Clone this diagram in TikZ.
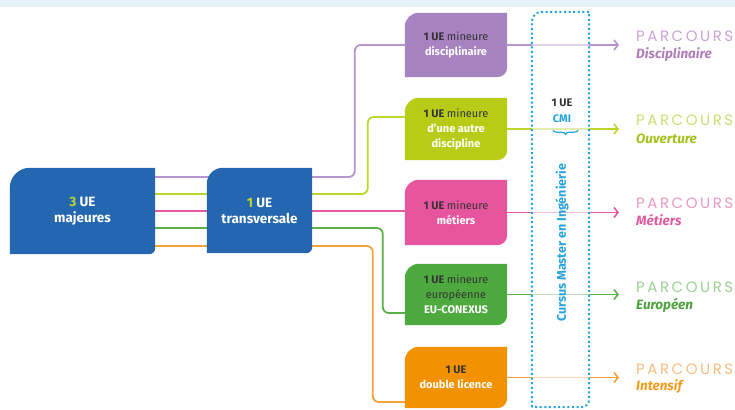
\documentclass[tikz,border=0pt]{standalone}
\usepackage{fontspec}
\setmainfont{Fira Sans}
\newfontfamily\popfont{Poppins}
\usetikzlibrary{arrows.meta,backgrounds,decorations.pathreplacing}
\definecolor{band}{HTML}{E4F2FA}
\definecolor{bluebox}{HTML}{2467B0}
\definecolor{ygreen}{HTML}{C2D62E}
\definecolor{purbox}{HTML}{A883C2}
\definecolor{purline}{HTML}{B794CF}
\definecolor{yelbox}{HTML}{B8CC17}
\definecolor{yelline}{HTML}{BFD42C}
\definecolor{pinkbox}{HTML}{E6559D}
\definecolor{pinkline}{HTML}{E8579F}
\definecolor{grnbox}{HTML}{4EAA3F}
\definecolor{grnline}{HTML}{5BB04A}
\definecolor{orabox}{HTML}{F39200}
\definecolor{oraline}{HTML}{F3A13A}
\definecolor{cmicyan}{HTML}{25A3DC}
\definecolor{darktxt}{HTML}{333333}
\definecolor{purlab}{HTML}{B07DBA}
\definecolor{yellab}{HTML}{A6BF1A}
\definecolor{pinklab}{HTML}{E05CA0}
\definecolor{grnlab}{HTML}{4DA23E}
\definecolor{oralab}{HTML}{F39A1F}
\definecolor{purpale}{HTML}{C9A3D4}
\definecolor{yelpale}{HTML}{CFDC70}
\definecolor{pinkpale}{HTML}{EC98C2}
\definecolor{grnpale}{HTML}{9DD094}
\definecolor{orapale}{HTML}{F5BE80}
\newcommand\tabpath[4]{\path[#1] (#2.south west) -- ([yshift=-#3]#2.north west) arc(180:90:#3) -- (#2.north east) -- ([yshift=#4]#2.south east) arc(0:-90:#4) -- cycle;}
\newcommand\spreadword[1]{\makebox[97pt][s]{#1}}
\begin{document}
\begin{tikzpicture}[x=1pt,y=1pt,
  boxtxt/.style={inner sep=0pt, align=center, text=white, font=\bfseries\fontsize{13.5}{16}\selectfont},
  mintxt/.style={inner sep=0pt, minimum width=102pt, align=center, text=white, font=\bfseries\fontsize{11}{15}\selectfont},
  conn/.style={line width=1.8pt, rounded corners=6pt},
  arr/.style={line width=1.8pt, -{Straight Barb[length=4pt,width=10pt,line width=1.6pt]}},
  fade/.style={line width=2pt, white, opacity=0.6},
  parc/.style={anchor=west, inner sep=0pt, font=\popfont\fontsize{15}{15}\selectfont},
  plab/.style={anchor=west, inner sep=0pt, font=\bfseries\itshape\fontsize{13.5}{13.5}\selectfont},
  cmitxt/.style={inner sep=0pt, font=\bfseries\fontsize{11}{12}\selectfont}
]
\useasboundingbox (0,0) rectangle (735,409);
\fill[band] (0,402) rectangle (735,409);
% boxes (text)
\node[boxtxt, minimum width=145pt, minimum height=86pt] (b1) at (82.5,198) {\textcolor{ygreen}{3} UE\\majeures};
\node[boxtxt, minimum width=105pt, minimum height=85pt] (b2) at (259.5,198.5) {\textcolor{ygreen}{1} UE\\transversale};
\node[mintxt, minimum height=64pt] (r1) at (456,364) {\textcolor{darktxt}{1 UE \mdseries mineure}\\disciplinaire};
\node[mintxt, minimum height=62pt] (r2) at (456,280) {\textcolor{darktxt}{1 UE \mdseries mineure}\\d'une autre\\discipline};
\node[mintxt, minimum height=65pt] (r3) at (456,196.5) {\textcolor{darktxt}{1 UE \mdseries mineure}\\métiers};
\node[mintxt, minimum height=61pt] (r4) at (456,114.5) {\textcolor{darktxt}{1 UE \mdseries mineure}\\\textcolor{darktxt}{\mdseries européenne}\\EU-CONEXUS};
\node[mintxt, minimum height=61pt] (r5) at (456,31.5) {\textcolor{darktxt}{1 UE}\\double licence};
% CMI column
\node[inner sep=0pt, minimum width=57pt, minimum height=395pt] (cmi) at (560.5,199.5) {};
\node[cmitxt, text=darktxt] (cu) at (562,306) {1 UE};
\node[cmitxt, text=cmicyan] (cc) at (562,290) {CMI};
\node[cmitxt, text=cmicyan, rotate=90, font=\bfseries\fontsize{12.5}{13}\selectfont] (cv) at (562,166) {Cursus Master en Ingénierie};
\coordinate (tip) at (619,0);
% parcours labels
\node[parc, text=purpale] (p1) at (636,373) {\spreadword{P\hfill A\hfill R\hfill C\hfill O\hfill U\hfill R\hfill S}};
\node[plab, text=purlab] (q1) at (636,354) {Disciplinaire};
\node[parc, text=yelpale] (p2) at (636,289) {\spreadword{P\hfill A\hfill R\hfill C\hfill O\hfill U\hfill R\hfill S}};
\node[plab, text=yellab] (q2) at (636,270) {Ouverture};
\node[parc, text=pinkpale] (p3) at (636,206) {\spreadword{P\hfill A\hfill R\hfill C\hfill O\hfill U\hfill R\hfill S}};
\node[plab, text=pinklab] (q3) at (636,189) {Métiers};
\node[parc, text=grnpale] (p4) at (636,122) {\spreadword{P\hfill A\hfill R\hfill C\hfill O\hfill U\hfill R\hfill S}};
\node[plab, text=grnlab] (q4) at (636,104) {Européen};
\node[parc, text=orapale] (p5) at (636,40) {\spreadword{P\hfill A\hfill R\hfill C\hfill O\hfill U\hfill R\hfill S}};
\node[plab, text=oralab] (q5) at (636,22) {Intensif};
\draw[decorate, decoration={brace, amplitude=4pt}, cmicyan, line width=1.2pt] ([xshift=16pt,yshift=-7pt]cc.south) -- ([xshift=-9pt,yshift=-7pt]cc.south);
\begin{scope}[on background layer]
  % connectors
  \draw[conn, purline] ([yshift=34pt]b1.east) -| ([xshift=-50pt]r1.west) -- (r1.west);
  \draw[conn, yelline] ([yshift=17pt]b1.east) -| ([xshift=-37pt,yshift=12pt]r2.west) -- ([yshift=12pt]r2.west);
  \draw[conn, pinkline] (b1.east) -- (b1.east -| r3.west);
  \draw[conn, grnline] ([yshift=-17pt]b1.east) -| ([xshift=-22pt,yshift=-18.5pt]r4.west) -- ([yshift=-18.5pt]r4.west);
  \draw[conn, oraline] ([yshift=-35pt]b1.east) -| ([xshift=-32pt,yshift=-24.5pt]r5.west) -- ([yshift=-24.5pt]r5.west);
  % arrows to parcours
  \draw[arr, purline] (r1.east) -- (r1.east -| tip);
  \draw[arr, yelline] (r2.east) -- (r2.east -| tip);
  \draw[arr, pinkline] (r3.east) -- (r3.east -| tip);
  \draw[arr, grnline] (r4.east) -- (r4.east -| tip);
  \draw[arr, oraline] (r5.east) -- (r5.east -| tip);
  % faded parts inside the CMI column
  \draw[fade] (r1.east -| cmi.west) -- (r1.east -| cmi.east);
  \draw[fade] (r2.east -| cmi.west) -- (r2.east -| cmi.east);
  \draw[fade] (r3.east -| cmi.west) -- (r3.east -| cmi.east);
  \draw[fade] (r4.east -| cmi.west) -- (r4.east -| cmi.east);
  \draw[fade] (r5.east -| cmi.west) -- (r5.east -| cmi.east);
  % box fills
  \tabpath{fill=bluebox}{b1}{20pt}{6pt}
  \tabpath{fill=bluebox}{b2}{16pt}{6pt}
  \tabpath{fill=purbox}{r1}{14pt}{10pt}
  \tabpath{fill=yelbox}{r2}{14pt}{10pt}
  \tabpath{fill=pinkbox}{r3}{14pt}{10pt}
  \tabpath{fill=grnbox}{r4}{14pt}{10pt}
  \tabpath{fill=orabox}{r5}{14pt}{10pt}
  % dotted CMI frame
  \tabpath{draw=cmicyan, line width=2pt, dash pattern=on 2pt off 2.6pt}{cmi}{10pt}{8pt}
\end{scope}
\end{tikzpicture}
\end{document}
